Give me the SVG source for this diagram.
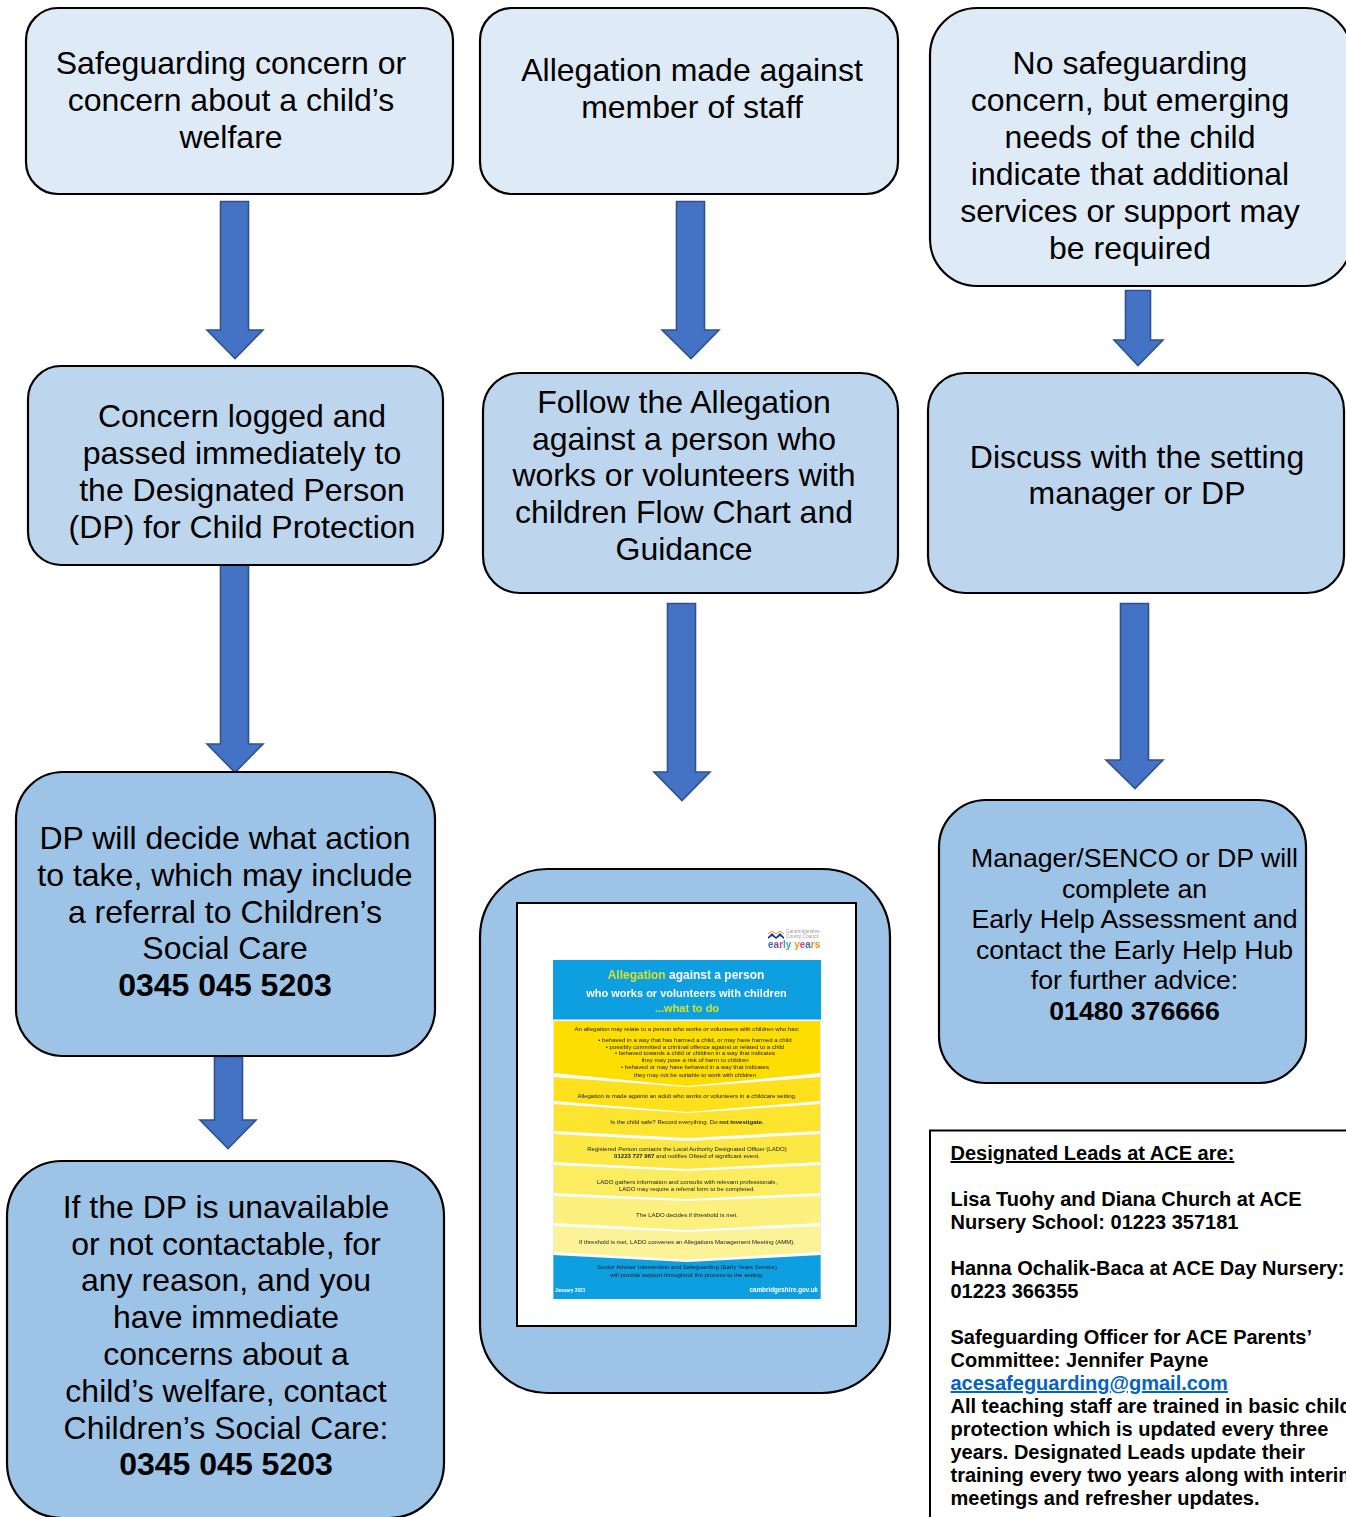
<svg xmlns="http://www.w3.org/2000/svg" width="1346" height="1517" viewBox="0 0 1346 1517">
<style>
text{font-family:"Liberation Sans",Arial,sans-serif;fill:#000}
.box{stroke:#000;stroke-width:2.2}
.l1{fill:#DEEAF6}.l2{fill:#BDD6EE}.l3{fill:#9DC3E6}
.t{font-size:32px;text-anchor:middle}
.m{font-size:26.67px;text-anchor:middle}
.b{font-weight:700}
.arrow{fill:#4472C4;stroke:#2F528F;stroke-width:1.6}
.note{font-size:20px;font-weight:700}
.p{font-size:6.05px;text-anchor:middle;fill:#222}
.band{stroke:none}
</style>
<defs><filter id="soft" x="0" y="0" width="1" height="1"><feGaussianBlur stdDeviation="0.3"/></filter></defs>
<rect width="1346" height="1517" fill="#fff"/>
<g id="connectors">
<polygon class="arrow" points="220.500,201.500 248.500,201.500 248.500,330 263,330 235,358.500 207,330 220.500,330"/>
<polygon class="arrow" points="676.500,201.500 704.500,201.500 704.500,330 719,330 691,358.500 662,330 676.500,330"/>
<polygon class="arrow" points="1125.500,290.500 1150.500,290.500 1150.500,340 1163,340 1138,365.500 1114,340 1125.500,340"/>
<polygon class="arrow" points="220.500,564.500 248.500,564.500 248.500,744 263,744 235,772.500 207,744 220.500,744"/>
<polygon class="arrow" points="667.500,603.500 695.500,603.500 695.500,772 710,772 682,800.500 654,772 667.500,772"/>
<polygon class="arrow" points="1120.500,603.500 1148.500,603.500 1148.500,760 1163,760 1135,788.500 1106,760 1120.500,760"/>
<polygon class="arrow" points="214.500,1056.500 242.500,1056.500 242.500,1120 256,1120 228,1148.500 200,1120 214.500,1120"/>
</g>
<g id="node-concern"><rect class="box l1" x="26" y="8" width="427" height="186" rx="32"/>
<text class="t" x="231" y="74">Safeguarding concern or</text><text class="t" x="231" y="111">concern about a child’s</text><text class="t" x="231" y="148">welfare</text></g>
<g id="node-allegation"><rect class="box l1" x="480" y="8" width="418" height="186" rx="32"/>
<text class="t" x="692" y="81">Allegation made against</text><text class="t" x="692" y="118">member of staff</text></g>
<g id="node-no-concern"><rect class="box l1" x="930" y="8" width="422" height="278" rx="47"/>
<text class="t" x="1130" y="74">No safeguarding</text><text class="t" x="1130" y="111">concern, but emerging</text><text class="t" x="1130" y="148">needs of the child</text><text class="t" x="1130" y="185">indicate that additional</text><text class="t" x="1130" y="222">services or support may</text><text class="t" x="1130" y="259">be required</text></g>
<g id="node-logged"><rect class="box l2" x="28" y="366" width="415" height="199" rx="33"/>
<text class="t" x="242" y="427">Concern logged and</text><text class="t" x="242" y="464">passed immediately to</text><text class="t" x="242" y="501">the Designated Person</text><text class="t" x="242" y="538">(DP) for Child Protection</text></g>
<g id="node-follow"><rect class="box l2" x="483" y="373" width="415" height="220" rx="37"/>
<text class="t" x="684" y="413">Follow the Allegation</text><text class="t" x="684" y="450">against a person who</text><text class="t" x="684" y="486">works or volunteers with</text><text class="t" x="684" y="523">children Flow Chart and</text><text class="t" x="684" y="560">Guidance</text></g>
<g id="node-discuss"><rect class="box l2" x="928" y="373" width="416" height="220" rx="37"/>
<text class="t" x="1137" y="468">Discuss with the setting</text><text class="t" x="1137" y="504">manager or DP</text></g>
<g id="node-decide"><rect class="box l3" x="16" y="772" width="419" height="284" rx="47"/>
<text class="t" x="225" y="849">DP will decide what action</text><text class="t" x="225" y="886">to take, which may include</text><text class="t" x="225" y="923">a referral to Children’s</text><text class="t" x="225" y="959">Social Care</text><text class="t b" x="225" y="996">0345 045 5203</text></g>
<g id="node-poster"><rect class="box l3" x="480" y="869" width="410" height="524" rx="68"/>
<rect x="517" y="903" width="339" height="423" fill="#fff" stroke="#000" stroke-width="2"/>
<g filter="url(#soft)">
<path d="M768 937l4-4 4 4 4-4 4 4 0 2-4-3-4 3-4-3-4 3z" fill="#1b3f7a"/>
<path d="M768 934l4-3 4 3 4-3 4 3" fill="none" stroke="#e0662e" stroke-width="0.8"/>
<text x="786" y="933" font-size="4.800" style="fill:#999">Cambridgeshire</text><text x="786" y="938" font-size="4.800" style="fill:#999">County Council</text>
<text x="768" y="948" font-size="10" font-weight="700" style="fill:#3a6ea5">e<tspan style="fill:#7a4fa0">a</tspan><tspan style="fill:#e0457b">r</tspan><tspan style="fill:#3aa8a0">ly</tspan> <tspan style="fill:#d9a21e">y</tspan><tspan style="fill:#e0457b">e</tspan><tspan style="fill:#3a6ea5">a</tspan><tspan style="fill:#e88a2e">rs</tspan></text>
<rect class="band" x="553" y="960" width="268" height="59.500" fill="#0D9FE0"/>
<polygon class="band" points="554,1021 820,1021 820,1073 687,1086 554,1073" fill="#FEDD00"/>
<polygon class="band" points="554,1077 687,1087 820,1077 820,1101 687,1112 554,1101" fill="#FEE01A"/>
<polygon class="band" points="554,1104 687,1113 820,1104 820,1131 687,1138 554,1131" fill="#FDE42F"/>
<polygon class="band" points="554,1134 687,1141 820,1134 820,1162 687,1169 554,1162" fill="#FBE845"/>
<polygon class="band" points="554,1165 687,1171 820,1165 820,1193 687,1199 554,1193" fill="#FBEC60"/>
<polygon class="band" points="554,1196 687,1201 820,1196 820,1223 687,1230 554,1223" fill="#FCF07E"/>
<polygon class="band" points="554,1226 687,1232 820,1226 820,1252 687,1260 554,1252" fill="#FCF399"/>
<polygon class="band" points="553,1255 687,1262 821,1255 821,1299 553,1299" fill="#0D9FE0"/>
<path d="M553 1020V1299M821 1020V1299" stroke="#cfcfd6" stroke-width="1" fill="none"/>
<text x="686" y="979" font-size="12" font-weight="700" text-anchor="middle" style="fill:#fff"><tspan style="fill:#D6E32A">Allegation</tspan> against a person</text>
<text x="686.500" y="997" font-size="11" font-weight="700" text-anchor="middle" style="fill:#fff">who works or volunteers with children</text>
<text x="687" y="1012" font-size="11" font-weight="700" text-anchor="middle" style="fill:#D6E32A">...what to do</text>
<text class="p" x="687" y="1031">An allegation may relate to a person who works or volunteers with children who has:</text>
<text class="p" x="695" y="1041.500">•   behaved in a way that has harmed a child, or may have harmed a child</text>
<text class="p" x="695" y="1048.500">•   possibly committed a criminal offence against or related to a child</text>
<text class="p" x="695" y="1055">•   behaved towards a child or children in a way that indicates</text>
<text class="p" x="695" y="1062">they may pose a risk of harm to children</text>
<text class="p" x="695" y="1069">•   behaved or may have behaved in a way that indicates</text>
<text class="p" x="695" y="1077">they may not be suitable to work with children</text>
<text class="p" x="687" y="1098">Allegation is made against an adult who works or volunteers in a childcare setting.</text>
<text class="p" x="687" y="1124">Is the child safe? Record everything. Do <tspan font-weight="700">not investigate.</tspan></text>
<text class="p" x="687" y="1151">Registered Person contacts the Local Authority Designated Officer (LADO)</text>
<text class="p" x="687" y="1157.500"><tspan font-weight="700">01223 727 967</tspan> and notifies Ofsted of significant event.</text>
<text class="p" x="687" y="1184">LADO gathers information and consults with relevant professionals,</text>
<text class="p" x="687" y="1191">LADO may require a referral form to be completed.</text>
<text class="p" x="687" y="1217">The LADO decides if threshold is met.</text>
<text class="p" x="687" y="1244">If threshold is met, LADO convenes an Allegations Management Meeting (AMM).</text>
<text class="p" x="687" y="1269">Senior Adviser Intervention and Safeguarding (Early Years Service)</text>
<text class="p" x="687" y="1277">will provide support throughout the process to the setting.</text>
<text x="555" y="1292" font-size="4.800" font-weight="700" style="fill:#fff">January 2021</text>
<text x="818" y="1292" font-size="6.300" font-weight="700" text-anchor="end" style="fill:#fff">cambridgeshire.gov.uk</text>
</g></g>
<g id="node-early-help"><rect class="box l3" x="939" y="800" width="367" height="283" rx="47"/>
<text class="m" x="1134.500" y="867">Manager/SENCO or DP will</text><text class="m" x="1134.500" y="898">complete an</text><text class="m" x="1134.500" y="928">Early Help Assessment and</text><text class="m" x="1134.500" y="959">contact the Early Help Hub</text><text class="m" x="1134.500" y="989">for further advice:</text><text class="m b" x="1134.500" y="1020">01480 376666</text></g>
<g id="node-unavailable"><rect class="box l3" x="7" y="1161" width="437" height="357" rx="55"/>
<text class="t" x="226" y="1218">If the DP is unavailable</text><text class="t" x="226" y="1255">or not contactable, for</text><text class="t" x="226" y="1291">any reason, and you</text><text class="t" x="226" y="1328">have immediate</text><text class="t" x="226" y="1365">concerns about a</text><text class="t" x="226" y="1402">child’s welfare, contact</text><text class="t" x="226" y="1439">Children’s Social Care:</text><text class="t b" x="226" y="1475">0345 045 5203</text></g>
<g id="node-leads"><rect x="930" y="1130.500" width="430" height="400" fill="#fff" stroke="#000" stroke-width="2"/>
<text class="note" x="950.500" y="1160" text-decoration="underline">Designated Leads at ACE are:</text>
<text class="note" x="950.500" y="1206">Lisa Tuohy and Diana Church at ACE</text>
<text class="note" x="950.500" y="1229">Nursery School: 01223 357181</text>
<text class="note" x="950.500" y="1275">Hanna Ochalik-Baca at ACE Day Nursery:</text>
<text class="note" x="950.500" y="1298">01223 366355</text>
<text class="note" x="950.500" y="1344">Safeguarding Officer for ACE Parents’</text>
<text class="note" x="950.500" y="1367">Committee: Jennifer Payne</text>
<text class="note" x="950.500" y="1390" text-decoration="underline" style="fill:#0563C1">acesafeguarding@gmail.com</text>
<text class="note" x="950.500" y="1413">All teaching staff are trained in basic child</text>
<text class="note" x="950.500" y="1436">protection which is updated every three</text>
<text class="note" x="950.500" y="1459">years. Designated Leads update their</text>
<text class="note" x="950.500" y="1482">training every two years along with interim</text>
<text class="note" x="950.500" y="1505">meetings and refresher updates.</text></g>
</svg>
